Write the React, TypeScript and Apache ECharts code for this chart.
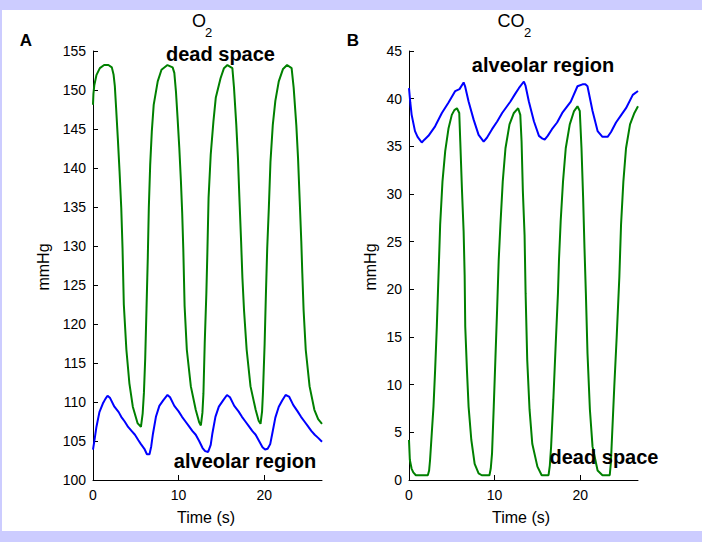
import React, { useEffect, useRef } from "react";
import * as echarts from "echarts";

// Time axis ticks (s)
const timeTicks = [0, 10, 20];
const timeMax = 26.75;
const o2Ticks = [100, 105, 110, 115, 120, 125, 130, 135, 140, 145, 150, 155];
const co2Ticks = [0, 5, 10, 15, 20, 25, 30, 35, 40, 45];

// Panel A: O2 (mmHg) — dead space (green)
const o2DeadSpace: [number, number][] = [
  [0, 148.1], [0.05, 149.5], [0.15, 150.6], [0.4, 151.9], [0.8, 152.8], [1.3, 153.2], [1.8, 153.2],
  [2.2, 152.9], [2.4, 152.0], [2.55, 150.5], [2.7, 147.7], [2.9, 143.8], [3.1, 139.6], [3.3, 134.9],
  [3.45, 129.7], [3.6, 122.5], [3.9, 116.7], [4.25, 112.4], [4.65, 109.4], [5.2, 107.3], [5.6, 106.8],
  [5.8, 108.5], [5.95, 111.2], [6.1, 115.6], [6.25, 122.0], [6.4, 128.5], [6.52, 134.9], [6.68, 140.4],
  [6.87, 144.7], [7.09, 148.1], [7.56, 151.1], [8.0, 152.6], [8.7, 153.2], [9.3, 152.9], [9.5, 152.2],
  [9.69, 149.8], [9.88, 146.4], [10.08, 142.6], [10.27, 138.3], [10.42, 134.2], [10.55, 129.5],
  [10.7, 122.3], [10.96, 116.7], [11.43, 112.0], [12.0, 109.0], [12.4, 107.4], [12.6, 107.0],
  [12.78, 108.6], [12.9, 111.1], [13.05, 117.5], [13.24, 123.9], [13.36, 129.2], [13.5, 136.2],
  [13.75, 141.7], [14.07, 146.0], [14.34, 149.0], [14.9, 151.5], [15.3, 152.8], [15.7, 153.2],
  [16.28, 152.8], [16.47, 150.3], [16.74, 145.5], [16.93, 141.3], [17.1, 136.2], [17.3, 130.6],
  [17.45, 126.0], [17.64, 121.8], [17.95, 116.7], [18.4, 112.0], [19.0, 109.0], [19.35, 107.6],
  [19.57, 107.2], [19.75, 108.8], [19.85, 111.1], [20.05, 117.5], [20.2, 123.9], [20.35, 129.7],
  [20.54, 134.9], [20.73, 140.8], [21.0, 145.5], [21.3, 148.6], [21.7, 151.1], [22.2, 152.7],
  [22.67, 153.2], [23.2, 152.8], [23.44, 150.3], [23.75, 145.5], [23.95, 141.3], [24.15, 135.7],
  [24.33, 130.6], [24.45, 126.5], [24.6, 121.8], [24.85, 116.7], [25.3, 112.0], [25.86, 109.0],
  [26.3, 107.8], [26.75, 107.2],
];

// Panel A: O2 (mmHg) — alveolar region (blue)
const o2Alveolar: [number, number][] = [
  [0, 103.9], [0.2, 105.3], [0.4, 106.8], [0.75, 108.7], [1.15, 109.8], [1.45, 110.4], [1.7, 110.8],
  [2.0, 110.5], [2.5, 109.4], [3.0, 108.7], [3.3, 108.1], [3.7, 107.5], [4.1, 106.8], [4.5, 106.3],
  [4.9, 105.8], [5.3, 105.1], [5.6, 104.6], [6.0, 104.0], [6.3, 103.3], [6.6, 103.3], [6.8, 104.3],
  [7.0, 105.9], [7.35, 108.1], [7.75, 109.5], [8.2, 110.2], [8.7, 110.9], [9.0, 110.6], [9.5, 109.5],
  [10.0, 108.8], [10.4, 108.1], [10.8, 107.5], [11.2, 106.9], [11.6, 106.3], [12.0, 105.8],
  [12.4, 105.0], [12.8, 104.1], [13.1, 103.7], [13.45, 103.6], [13.75, 104.5], [13.95, 106.0],
  [14.3, 108.1], [14.7, 109.4], [15.2, 110.2], [15.65, 110.9], [16.0, 110.6], [16.5, 109.5],
  [17.0, 108.8], [17.4, 108.1], [17.8, 107.5], [18.2, 106.9], [18.6, 106.3], [19.0, 105.8],
  [19.4, 105.0], [19.8, 104.2], [20.1, 103.9], [20.4, 104.0], [20.7, 104.6], [20.95, 106.0],
  [21.3, 108.0], [21.7, 109.4], [22.1, 110.2], [22.5, 110.9], [22.9, 110.7], [23.4, 109.6],
  [23.9, 108.8], [24.3, 108.1], [24.7, 107.5], [25.1, 106.9], [25.5, 106.3], [25.9, 105.8],
  [26.3, 105.4], [26.75, 104.9],
];

// Panel B: CO2 (mmHg) — alveolar region (blue)
const co2Alveolar: [number, number][] = [
  [0, 41.1], [0.15, 39.6], [0.31, 38.3], [0.7, 36.6], [1.0, 36.0], [1.49, 35.4], [1.8, 35.7],
  [2.27, 36.1], [3.05, 37.1], [3.84, 38.5], [4.62, 39.6], [5.4, 40.8], [5.9, 41.0], [6.38, 41.7],
  [6.55, 41.3], [6.96, 39.7], [7.55, 37.8], [8.13, 36.2], [8.72, 35.5], [9.1, 35.9], [9.7, 36.8],
  [10.3, 37.6], [10.88, 38.5], [11.85, 39.7], [12.4, 40.5], [12.83, 41.1], [13.42, 41.8],
  [13.6, 41.4], [14.0, 39.7], [14.6, 37.6], [15.18, 36.1], [15.6, 35.8], [15.85, 35.7], [16.2, 36.1],
  [16.7, 36.8], [17.3, 37.5], [17.9, 38.5], [18.9, 39.7], [19.68, 41.3], [20.27, 41.5], [20.6, 41.5],
  [20.85, 41.3], [21.44, 38.7], [22.03, 36.6], [22.6, 36.0], [23.2, 36.0], [23.6, 36.5],
  [24.18, 37.5], [24.8, 38.3], [25.35, 39.0], [26.14, 40.4], [26.75, 40.8],
];

// Panel B: CO2 (mmHg) — dead space (green)
const co2DeadSpace: [number, number][] = [
  [0, 4.2], [0.1, 2.1], [0.3, 1.2], [0.5, 0.8], [0.8, 0.5], [2.2, 0.5], [2.35, 1.0], [2.46, 2.1],
  [2.66, 4.9], [2.86, 7.7], [3.05, 11.5], [3.25, 16.1], [3.44, 21.3], [3.5, 22.9], [3.64, 26.8],
  [3.91, 31.3], [4.23, 34.5], [4.62, 36.9], [5.0, 38.3], [5.3, 38.8], [5.6, 39.0], [5.87, 38.5],
  [5.99, 35.5], [6.18, 30.6], [6.38, 26.1], [6.5, 21.5], [6.57, 16.1], [6.77, 11.5], [6.96, 7.7],
  [7.28, 4.2], [7.67, 1.7], [8.13, 0.7], [8.5, 0.5], [9.4, 0.5], [9.55, 1.2], [9.7, 2.8], [9.9, 7.7],
  [10.1, 12.9], [10.29, 17.8], [10.48, 23.1], [10.68, 26.8], [10.95, 31.3], [11.27, 34.8],
  [11.74, 37.3], [12.25, 38.5], [12.75, 39.0], [13.0, 38.3], [13.15, 35.5], [13.3, 30.3],
  [13.5, 25.7], [13.62, 19.6], [13.81, 12.6], [14.08, 7.4], [14.4, 3.8], [15.0, 1.4], [15.5, 0.5],
  [16.3, 0.5], [16.45, 1.5], [16.6, 3.5], [16.86, 8.4], [17.14, 14.3], [17.4, 19.6], [17.52, 23.1],
  [17.72, 27.2], [17.99, 31.3], [18.31, 34.8], [18.78, 37.3], [19.28, 38.7], [19.68, 39.2],
  [19.95, 38.7], [20.15, 34.8], [20.34, 29.6], [20.5, 24.3], [20.66, 19.6], [20.85, 13.3],
  [21.13, 7.4], [21.44, 3.5], [22.03, 1.0], [22.6, 0.5], [23.45, 0.5], [23.58, 1.8], [23.7, 4.2],
  [23.98, 9.8], [24.26, 15.0], [24.57, 21.3], [24.77, 26.8], [25.04, 31.3], [25.35, 34.8],
  [25.82, 37.3], [26.33, 38.5], [26.75, 39.2],
];

const GREEN = "#008000";
const BLUE = "#0000ff";
const FONT = "'Liberation Sans', Arial, Helvetica, sans-serif";

export default function App() {
  const ref = useRef<HTMLDivElement>(null);

  useEffect(() => {
    if (!ref.current) return;
    const chart = echarts.init(ref.current, undefined, { renderer: "svg" });

    const xAxis = (gridIndex: number) => ({
      type: "value",
      gridIndex,
      min: 0,
      max: timeMax,
      axisLine: { show: true, onZero: false, lineStyle: { color: "#000", width: 1 } },
      axisTick: { show: true, inside: true, length: 5, customValues: timeTicks, lineStyle: { color: "#000" } },
      axisLabel: { fontSize: 14, color: "#000", fontFamily: FONT, margin: 8, customValues: timeTicks },
      splitLine: { show: false },
    });
    const yAxis = (gridIndex: number, min: number, max: number, ticks: number[]) => ({
      type: "value",
      gridIndex,
      min,
      max,
      interval: 5,
      axisLine: { show: true, onZero: false, lineStyle: { color: "#000", width: 1 } },
      axisTick: { show: true, inside: true, length: 5, customValues: ticks, lineStyle: { color: "#000" } },
      axisLabel: { fontSize: 14, color: "#000", fontFamily: FONT, margin: 7, customValues: ticks },
      splitLine: { show: false },
    });
    const line = (data: [number, number][], color: string, idx: number) => ({
      type: "line",
      xAxisIndex: idx,
      yAxisIndex: idx,
      data,
      showSymbol: false,
      symbol: "none",
      clip: true,
      lineStyle: { color, width: 2 },
      itemStyle: { color },
    });
    const txt = (text: string, x: number, y: number, size: number, bold = false, align = "center", rotation = 0) => ({
      type: "text",
      x,
      y,
      rotation,
      silent: true,
      style: {
        text,
        fill: "#000",
        font: `${bold ? "bold " : ""}${size}px ${FONT}`,
        textAlign: align,
        textVerticalAlign: "middle",
        verticalAlign: "middle",
      },
      z: 100,
    });

    chart.setOption({
      animation: false,
      backgroundColor: "#ccccff",
      grid: [
        { left: 93, top: 51, width: 229, height: 429, containLabel: false },
        { left: 409, top: 51, width: 229, height: 429, containLabel: false },
      ],
      xAxis: [xAxis(0), xAxis(1)],
      yAxis: [yAxis(0, 100, 155, o2Ticks), yAxis(1, 0, 45, co2Ticks)],
      series: [
        line(o2DeadSpace, GREEN, 0),
        line(o2Alveolar, BLUE, 0),
        line(co2Alveolar, BLUE, 1),
        line(co2DeadSpace, GREEN, 1),
      ],
      graphic: [
        { type: "rect", shape: { x: 2, y: 10, width: 700, height: 521 }, style: { fill: "#ffffff" }, z: -10, silent: true },
        txt("A", 26, 40, 17, true),
        txt("B", 353, 40, 17, true),
        txt("O", 199, 21, 18),
        txt("2", 205, 32, 13, false, "left"),
        txt("CO", 511, 21, 18),
        txt("2", 524, 32, 13, false, "left"),
        txt("dead space", 220.5, 54, 20, true),
        txt("alveolar region", 245, 461, 20, true),
        txt("alveolar region", 543, 65, 20, true),
        txt("dead space", 604, 457, 20, true),
        txt("Time (s)", 206, 517, 16),
        txt("Time (s)", 521, 517, 16),
        txt("mmHg", 43, 267, 16, false, "center", Math.PI / 2),
        txt("mmHg", 370, 267, 16, false, "center", Math.PI / 2),
      ],
    });

    return () => chart.dispose();
  }, []);

  return <div ref={ref} style={{ position: "fixed", left: 0, top: 0, width: 702, height: 542 }} />;
}
